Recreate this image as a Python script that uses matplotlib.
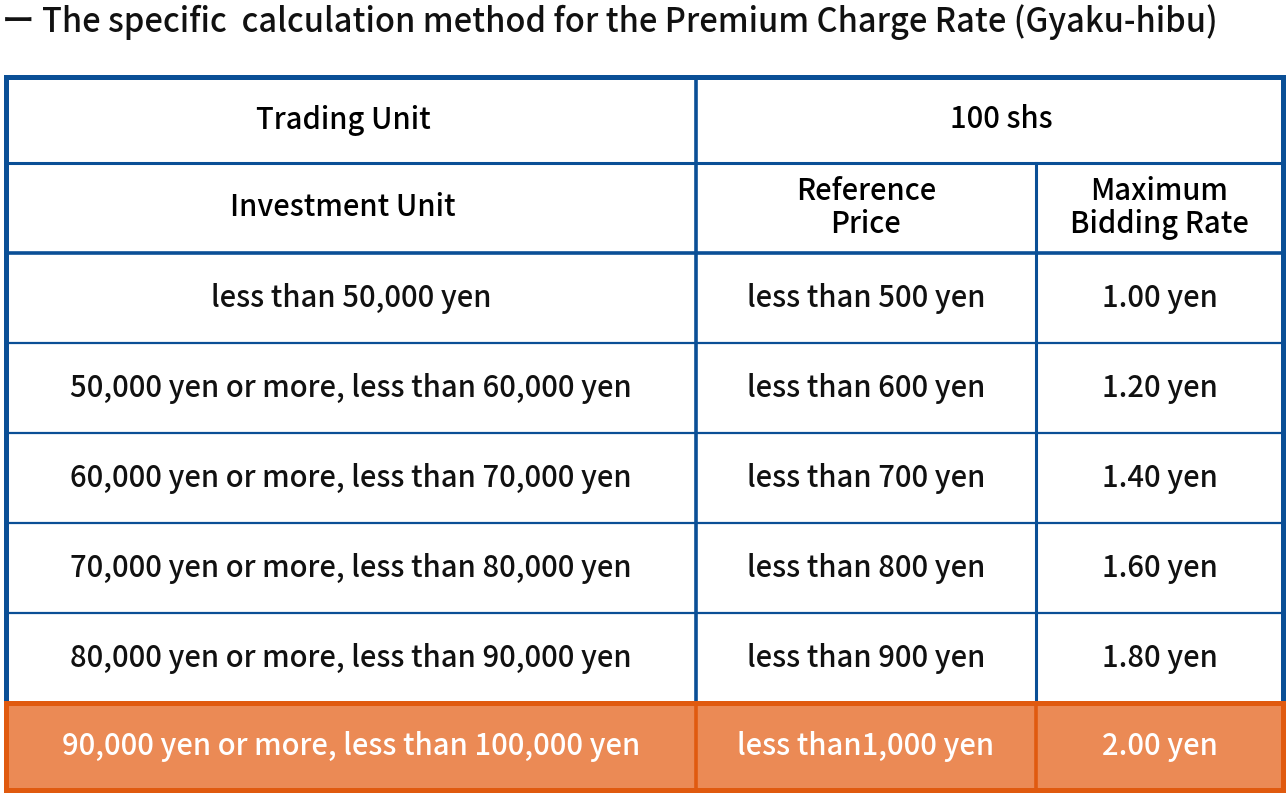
import matplotlib
matplotlib.use("Agg")
import matplotlib.pyplot as plt
from matplotlib.patches import Rectangle

title = "ー The specific  calculation method for the Premium Charge Rate (Gyaku-hibu)"
investment_units = ["less than 50,000 yen",
                    "50,000 yen or more, less than 60,000 yen",
                    "60,000 yen or more, less than 70,000 yen",
                    "70,000 yen or more, less than 80,000 yen",
                    "80,000 yen or more, less than 90,000 yen",
                    "90,000 yen or more, less than 100,000 yen"]
reference_prices = ["less than 500 yen", "less than 600 yen", "less than 700 yen",
                    "less than 800 yen", "less than 900 yen", "less than1,000 yen"]
max_bidding_rates = ["1.00 yen", "1.20 yen", "1.40 yen", "1.60 yen", "1.80 yen", "2.00 yen"]
highlight_index = 5

plt.rcParams["font.family"] = "Noto Sans CJK JP"
fig = plt.figure(figsize=(12.88, 8), dpi=100)
ax = fig.add_axes([0, 0, 1, 1])
ax.set_xlim(0, 1288); ax.set_ylim(800, 0); ax.axis("off")

blue = "#0A4F96"; orange_fill = "#EB8A55"; orange_edge = "#E05A0F"
x0, x1, x2, x3 = 6, 696, 1036, 1283
rows = [77, 163, 253, 343, 433, 523, 613, 703, 790]
fs = 21
fw = "medium"

ax.text(2, 22, title, fontsize=23.5, va="center", ha="left", color="#111", fontweight=fw)

ax.plot([x0, x3], [rows[1]]*2, color=blue, lw=2.2)
ax.plot([x0, x3], [rows[2]]*2, color=blue, lw=2.6)
for y in rows[3:7]:
    ax.plot([x0, x3], [y, y], color=blue, lw=1.6)
ax.plot([x1, x1], [rows[0], rows[7]], color=blue, lw=2.6)
ax.plot([x2, x2], [rows[1], rows[7]], color=blue, lw=2.2)
ax.add_patch(Rectangle((x0, rows[0]), x3 - x0, rows[7] - rows[0], fill=False, ec=blue, lw=3.6))

hy0, hy1 = rows[2 + highlight_index], rows[3 + highlight_index]
ax.add_patch(Rectangle((x0, hy0), x3 - x0, hy1 - hy0, fc=orange_fill, ec=orange_edge, lw=3.6, zorder=3))
for xv in (x1, x2):
    ax.plot([xv, xv], [hy0, hy1], color=orange_edge, lw=2.6, zorder=4)

cx = [(x0 + x1) / 2, (x1 + x2) / 2, (x2 + x3) / 2]
ax.text(cx[0] - 8, (rows[0] + rows[1]) / 2, "Trading Unit", ha="center", va="center", fontsize=fs, fontweight=fw)
ax.text((x1 + x3) / 2 + 12, (rows[0] + rows[1]) / 2, "100 shs", ha="center", va="center", fontsize=fs, fontweight=fw)
ymid = (rows[1] + rows[2]) / 2
ax.text(cx[0] - 8, ymid, "Investment Unit", ha="center", va="center", fontsize=fs, fontweight=fw)
ax.text(cx[1], ymid, "Reference\nPrice", ha="center", va="center", fontsize=fs, linespacing=1.05, fontweight=fw)
ax.text(cx[2], ymid, "Maximum\nBidding Rate", ha="center", va="center", fontsize=fs, linespacing=1.05, fontweight=fw)

for i, (a, b, c) in enumerate(zip(investment_units, reference_prices, max_bidding_rates)):
    y = (rows[2 + i] + rows[3 + i]) / 2
    col = "white" if i == highlight_index else "#111"
    for xx, t in zip(cx, (a, b, c)):
        ax.text(xx, y, t, ha="center", va="center", fontsize=fs, color=col, zorder=5, fontweight=fw)

fig.savefig("out.png", dpi=100)
